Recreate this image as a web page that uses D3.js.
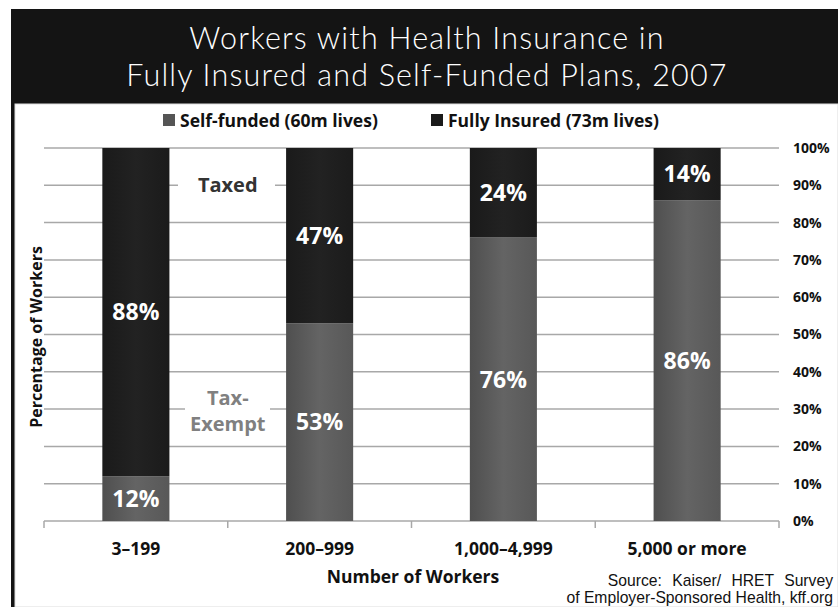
<!DOCTYPE html>
<html><head><meta charset="utf-8">
<script src="https://cdn.jsdelivr.net/npm/d3@7"></script>
<style>body{margin:0;background:#fff}svg{display:block}</style>
</head><body>
<svg id="c" width="838" height="607"></svg>
<script>
const categories = ["3–199", "200–999", "1,000–4,999", "5,000 or more"];
const selfFunded = [12, 53, 76, 86];
const fullyInsured = [88, 47, 24, 14];
const seriesNames = ["Self-funded (60m lives)", "Fully Insured (73m lives)"];
const yTicks = [0,10,20,30,40,50,60,70,80,90,100];
const titleLines = ["Workers with Health Insurance in", "Fully Insured and Self-Funded Plans, 2007"];

const svg = d3.select("#c");
const W = 838, H = 607;
const defs = svg.append("defs");
const g1 = defs.append("linearGradient").attr("id","gSelf").attr("x1","0").attr("x2","1").attr("y1","0").attr("y2","0");
g1.append("stop").attr("offset","0").attr("stop-color","#4f4f4f");
g1.append("stop").attr("offset","0.5").attr("stop-color","#646464");
g1.append("stop").attr("offset","1").attr("stop-color","#585858");
const g2 = defs.append("linearGradient").attr("id","gFull").attr("x1","0").attr("x2","1").attr("y1","0").attr("y2","0");
g2.append("stop").attr("offset","0").attr("stop-color","#1a1a1a");
g2.append("stop").attr("offset","0.5").attr("stop-color","#222");
g2.append("stop").attr("offset","1").attr("stop-color","#1b1b1b");

// frame
svg.append("rect").attr("x",11).attr("y",9).attr("width",W-11).attr("height",H-9).attr("fill","#141414");
svg.append("rect").attr("x",15).attr("y",104).attr("width",W-15).attr("height",H-104).attr("fill","#fff").attr("stroke","#ddd").attr("stroke-width",1);

// title
svg.selectAll("text.title").data(titleLines).join("text")
  .attr("x",427).attr("y",(d,i)=>49+i*37)
  .attr("text-anchor","middle").attr("fill","#fff")
  .attr("font-family","Lato, 'DejaVu Sans', sans-serif").attr("font-weight",300)
  .attr("font-size",30.5).attr("letter-spacing",1.2).text(d=>d);

// scales
const x = d3.scaleBand().domain(categories).range([44,779]).paddingInner(0.635).paddingOuter(0.3175);
const y = d3.scaleLinear().domain([0,100]).range([521,148]);

// gridlines
svg.append("g").selectAll("line").data(yTicks).join("line")
  .attr("x1",44).attr("x2",779).attr("y1",d=>y(d)).attr("y2",d=>y(d))
  .attr("stroke","#a8a8a8").attr("stroke-width",1.5);

// x axis ticks at band boundaries
const boundaries = categories.map(c=>x(c)-x.step()*x.paddingOuter()).concat([779]);
svg.append("g").selectAll("line").data(boundaries).join("line")
  .attr("x1",d=>d).attr("x2",d=>d).attr("y1",521).attr("y2",528)
  .attr("stroke","#a8a8a8").attr("stroke-width",1.5);

const lblFont = "'Open Sans', Lato, sans-serif";

// annotation text with white backgrounds
const gap = (x(categories[0])+x.bandwidth()+x(categories[1]))/2;
svg.append("rect").attr("x",178).attr("y",170).attr("width",97).attr("height",30).attr("fill","#fff");
svg.append("text").attr("x",gap).attr("y",192).attr("text-anchor","middle")
  .attr("font-family",lblFont).attr("font-weight",700).attr("font-size",20).attr("fill","#333").text("Taxed");
svg.append("rect").attr("x",185).attr("y",380).attr("width",85).attr("height",62).attr("fill","#fff");
svg.append("text").attr("x",gap).attr("y",405).attr("text-anchor","middle")
  .attr("font-family",lblFont).attr("font-weight",700).attr("font-size",20).attr("fill","#808080").text("Tax-");
svg.append("text").attr("x",gap).attr("y",431).attr("text-anchor","middle")
  .attr("font-family",lblFont).attr("font-weight",700).attr("font-size",20).attr("fill","#808080").text("Exempt");

// bars
const data = categories.map((c,i)=>({c, s:selfFunded[i], f:fullyInsured[i]}));
const bars = svg.append("g");
bars.selectAll("rect.s").data(data).join("rect")
  .attr("x",d=>x(d.c)).attr("width",x.bandwidth())
  .attr("y",d=>y(d.s)).attr("height",d=>y(0)-y(d.s)).attr("fill","url(#gSelf)");
bars.selectAll("rect.f").data(data).join("rect")
  .attr("x",d=>x(d.c)).attr("width",x.bandwidth())
  .attr("y",d=>y(d.s+d.f)).attr("height",d=>y(d.s)-y(d.s+d.f)).attr("fill","url(#gFull)");

bars.selectAll("text.s").data(data).join("text")
  .attr("x",d=>x(d.c)+x.bandwidth()/2).attr("y",d=>y(d.s/2)).attr("dy","0.36em")
  .attr("text-anchor","middle").attr("fill","#fff").attr("font-family",lblFont).attr("font-weight",700)
  .attr("font-size",23).text(d=>d.s+"%");
bars.selectAll("text.f").data(data).join("text")
  .attr("x",d=>x(d.c)+x.bandwidth()/2).attr("y",d=>y(d.s+d.f/2)).attr("dy","0.36em")
  .attr("text-anchor","middle").attr("fill","#fff").attr("font-family",lblFont).attr("font-weight",700)
  .attr("font-size",23).text(d=>d.f+"%");

// right axis labels
svg.append("g").selectAll("text").data(yTicks).join("text")
  .attr("x",793).attr("y",d=>y(d)).attr("dy","0.35em")
  .attr("font-family",lblFont).attr("font-weight",700).attr("font-size",14).attr("fill","#111")
  .text(d=>d+"%");

// x labels
svg.append("g").selectAll("text").data(categories).join("text")
  .attr("x",d=>x(d)+x.bandwidth()/2).attr("y",555).attr("text-anchor","middle")
  .attr("font-family",lblFont).attr("font-weight",700).attr("font-size",17.5).attr("fill","#111").text(d=>d);
svg.append("text").attr("x",413).attr("y",583).attr("text-anchor","middle")
  .attr("font-family",lblFont).attr("font-weight",700).attr("font-size",17.5).attr("fill","#111").text("Number of Workers");

// y title
svg.append("text").attr("transform","translate(42,337) rotate(-90)").attr("text-anchor","middle")
  .attr("font-family",lblFont).attr("font-weight",700).attr("font-size",16).attr("fill","#111").text("Percentage of Workers");

// legend
const leg = svg.append("g");
const legX = [163, 431];
const legCol = ["#555", "#1a1a1a"];
seriesNames.forEach((n,i)=>{
  leg.append("rect").attr("x",legX[i]).attr("y",114).attr("width",12).attr("height",12).attr("fill",legCol[i]);
  leg.append("text").attr("x",legX[i]+17).attr("y",127)
    .attr("font-family",lblFont).attr("font-weight",700).attr("font-size",17.5).attr("fill","#111").text(n);
});

// source
svg.append("text").attr("x",833).attr("y",586).attr("text-anchor","end")
  .attr("font-family","'Liberation Sans', Arial, sans-serif").attr("font-size",15.7).attr("word-spacing",6).attr("fill","#111")
  .text("Source: Kaiser/ HRET Survey");
svg.append("text").attr("x",833).attr("y",603).attr("text-anchor","end")
  .attr("font-family","'Liberation Sans', Arial, sans-serif").attr("font-size",15.7).attr("fill","#111")
  .text("of Employer-Sponsored  Health, kff.org");
</script>
</body></html>
